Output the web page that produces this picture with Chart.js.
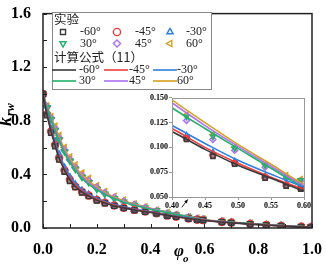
<!DOCTYPE html>
<html>
<head>
<meta charset="utf-8">
<script src="https://cdn.jsdelivr.net/npm/chart.js@4.4.0/dist/chart.umd.min.js"></script>
<style>
html, body { margin: 0; padding: 0; background: #fff; }
#wrap { position: relative; width: 326px; height: 265px; }
#main { position: absolute; left: 0; top: 0; }
#inset { position: absolute; left: 145px; top: 92px; }
</style>
</head>
<body>
<div id="wrap">
  <canvas id="main" width="326" height="265" style="width:326px;height:265px"></canvas>
  <canvas id="inset" width="167" height="118" style="width:167px;height:118px"></canvas>
</div>
<script>
// angle labels
var angleLabels = ['-60°', '-45°', '-30°', '30°', '45°', '60°'];

// calculated curves (formula 11)
var curvePhi = [0, 0.01, 0.02, 0.03, 0.04, 0.05, 0.06, 0.08, 0.10, 0.12, 0.15, 0.20, 0.25, 0.30, 0.35, 0.40, 0.45, 0.50, 0.55, 0.60, 0.70, 0.80, 0.90, 1.00];
var fitM60 = [1.00, 0.89, 0.80, 0.72, 0.65, 0.58, 0.52, 0.43, 0.36, 0.31, 0.262, 0.208, 0.174, 0.150, 0.131, 0.116, 0.098, 0.082, 0.069, 0.056, 0.038, 0.025, 0.013, 0.004];
var fitM45 = [1.00, 0.90, 0.81, 0.73, 0.66, 0.59, 0.53, 0.44, 0.37, 0.32, 0.27, 0.214, 0.179, 0.153, 0.134, 0.119, 0.100, 0.084, 0.070, 0.058, 0.039, 0.026, 0.014, 0.004];
var fitM30 = [1.00, 0.91, 0.83, 0.75, 0.68, 0.61, 0.55, 0.46, 0.39, 0.335, 0.28, 0.222, 0.185, 0.158, 0.138, 0.122, 0.104, 0.087, 0.073, 0.060, 0.041, 0.027, 0.015, 0.005];
var fitP30 = [1.00, 0.93, 0.87, 0.81, 0.75, 0.70, 0.65, 0.56, 0.49, 0.43, 0.36, 0.285, 0.232, 0.193, 0.164, 0.140, 0.119, 0.099, 0.079, 0.060, 0.042, 0.028, 0.016, 0.006];
var fitP45 = [1.00, 0.935, 0.875, 0.82, 0.765, 0.715, 0.665, 0.575, 0.505, 0.445, 0.372, 0.295, 0.238, 0.198, 0.169, 0.145, 0.122, 0.101, 0.081, 0.0615, 0.043, 0.0285, 0.0165, 0.0065];
var fitP60 = [1.00, 0.94, 0.88, 0.83, 0.78, 0.73, 0.68, 0.59, 0.52, 0.46, 0.385, 0.305, 0.245, 0.203, 0.173, 0.148, 0.125, 0.103, 0.083, 0.063, 0.044, 0.029, 0.017, 0.007];

// experiment points
var expPhi = [0, 0.015, 0.03, 0.045, 0.06, 0.08, 0.10, 0.12, 0.145, 0.17, 0.20, 0.23, 0.265, 0.30, 0.34, 0.38, 0.422, 0.462, 0.495, 0.541, 0.573, 0.595, 0.665, 0.70, 0.77, 0.83, 0.885, 0.96, 0.995];
var expM60 = [1.00, 0.84, 0.71, 0.61, 0.51, 0.42, 0.35, 0.305, 0.265, 0.238, 0.205, 0.185, 0.165, 0.148, 0.132, 0.120, 0.108, 0.091, 0.083, 0.069, 0.061, 0.058, 0.044, 0.038, 0.029, 0.021, 0.015, 0.008, 0.005];
var expM45 = [1.00, 0.85, 0.72, 0.62, 0.52, 0.43, 0.36, 0.31, 0.27, 0.243, 0.21, 0.189, 0.168, 0.151, 0.135, 0.122, 0.109, 0.092, 0.084, 0.070, 0.062, 0.059, 0.045, 0.039, 0.030, 0.022, 0.016, 0.009, 0.006];
var expM30 = [1.00, 0.86, 0.74, 0.64, 0.55, 0.45, 0.38, 0.325, 0.28, 0.25, 0.216, 0.193, 0.172, 0.155, 0.138, 0.125, 0.112, 0.095, 0.086, 0.071, 0.063, 0.059, 0.046, 0.040, 0.031, 0.023, 0.017, 0.010, 0.006];
var expP30 = [1.00, 0.90, 0.81, 0.73, 0.66, 0.57, 0.50, 0.44, 0.38, 0.34, 0.29, 0.255, 0.22, 0.195, 0.17, 0.15, 0.131, 0.111, 0.099, 0.082, 0.070, 0.067, 0.050, 0.043, 0.033, 0.025, 0.018, 0.011, 0.007];
var expP45 = [1.00, 0.905, 0.82, 0.74, 0.67, 0.58, 0.51, 0.45, 0.39, 0.35, 0.30, 0.26, 0.225, 0.198, 0.173, 0.152, 0.127, 0.108, 0.097, 0.080, 0.069, 0.066, 0.050, 0.044, 0.034, 0.025, 0.019, 0.011, 0.007];
var expP60 = [1.00, 0.91, 0.83, 0.76, 0.69, 0.60, 0.53, 0.47, 0.41, 0.37, 0.315, 0.272, 0.235, 0.207, 0.18, 0.158, 0.133, 0.113, 0.100, 0.083, 0.072, 0.068, 0.052, 0.045, 0.035, 0.026, 0.019, 0.012, 0.008];

var colors = ['#3a3a3a', '#f03c3c', '#2f7fe0', '#22b06a', '#b070f0', '#d6a020'];
var styles = ['rect', 'circle', 'triangle', 'triangle', 'rectRot', 'triangle'];
var rotations = [0, 0, 0, 180, 0, 270];
var fits = [fitM60, fitM45, fitM30, fitP30, fitP45, fitP60];
var exps = [expM60, expM45, expM30, expP30, expP45, expP60];

function hexA(hex, a) {
    var n = parseInt(hex.slice(1), 16);
    return 'rgba(' + (n >> 16) + ',' + ((n >> 8) & 255) + ',' + (n & 255) + ',' + a + ')';
}

function buildSets(r) {
    var sets = [];
    for (var k = 0; k < 6; k++) {
        sets.push({
            label: 'exp ' + angleLabels[k],
            data: expPhi.map(function (p, i) { return {x: p, y: exps[k][i]}; }),
            showLine: false,
            pointStyle: styles[k],
            rotation: rotations[k],
            pointRadius: r,
            borderWidth: 1.4,
            borderColor: colors[k],
            backgroundColor: hexA(colors[k], 0.4),
            order: 2
        });
        sets.push({
            label: 'fit ' + angleLabels[k],
            data: curvePhi.map(function (p, i) { return {x: p, y: fits[k][i]}; }),
            showLine: true,
            pointRadius: 0,
            borderWidth: 1.6,
            borderColor: colors[k],
            cubicInterpolationMode: 'monotone',
            fill: false,
            order: 1
        });
    }
    return sets;
}

var serif = '"Liberation Serif", "Times New Roman", serif';

function drawMark(ctx, style, rot, x, y, r, color) {
    ctx.save();
    ctx.strokeStyle = color;
    ctx.fillStyle = 'rgba(0,0,0,0)';
    ctx.lineWidth = 1.4;
    Chart.helpers.drawPoint(ctx, {pointStyle: style, rotation: rot, radius: r, borderWidth: 1.4}, x, y);
    ctx.restore();
}

var mainDecor = {
    id: 'mainDecor',
    afterDraw: function (chart) {
        var ctx = chart.ctx, a = chart.chartArea, xs = chart.scales.x, ys = chart.scales.y;
        ctx.save();
        // inward ticks
        ctx.strokeStyle = '#222';
        ctx.lineWidth = 1;
        ys.ticks.forEach(function (t) {
            var py = Math.round(ys.getPixelForValue(t.value)) + 0.5;
            ctx.beginPath(); ctx.moveTo(a.left, py); ctx.lineTo(a.left + 4, py); ctx.stroke();
        });
        xs.ticks.forEach(function (t) {
            var px = Math.round(xs.getPixelForValue(t.value)) + 0.5;
            ctx.beginPath(); ctx.moveTo(px, a.bottom); ctx.lineTo(px, a.bottom - 4); ctx.stroke();
        });
        // frame
        ctx.lineWidth = 1.5;
        ctx.strokeRect(a.left, a.top, a.right - a.left, a.bottom - a.top);

        // arrow toward the inset
        var x0 = xs.getPixelForValue(0.516), y0 = ys.getPixelForValue(0.154);
        var x1 = xs.getPixelForValue(0.538), y1 = ys.getPixelForValue(0.213);
        ctx.lineWidth = 1;
        ctx.beginPath(); ctx.moveTo(x0, y0); ctx.lineTo(x1, y1); ctx.stroke();
        var ang = Math.atan2(y1 - y0, x1 - x0);
        ctx.fillStyle = '#111';
        ctx.beginPath();
        ctx.moveTo(x1, y1);
        ctx.lineTo(x1 - 4 * Math.cos(ang - 0.45), y1 - 4 * Math.sin(ang - 0.45));
        ctx.lineTo(x1 - 4 * Math.cos(ang + 0.45), y1 - 4 * Math.sin(ang + 0.45));
        ctx.closePath(); ctx.fill();

        // axis titles
        ctx.fillStyle = '#000';
        ctx.textBaseline = 'alphabetic';
        ctx.font = 'bold italic 17px ' + serif;
        ctx.fillText('\u03C6', 174, 256);
        ctx.font = 'bold italic 11px ' + serif;
        ctx.fillText('o', 183, 262);

        ctx.save();
        ctx.translate(11, 126);
        ctx.rotate(-Math.PI / 2);
        ctx.font = 'bold italic 18px ' + serif;
        ctx.fillText('k', 0, 0);
        ctx.font = 'bold italic 12px ' + serif;
        ctx.fillText('rw', 10, 3);
        ctx.restore();

        // legend
        var lx = 52, ly = 12, lw = 159, lh = 77;
        ctx.fillStyle = '#fff';
        ctx.fillRect(lx, ly, lw, lh);
        ctx.strokeStyle = '#888';
        ctx.lineWidth = 1;
        ctx.strokeRect(lx + 0.5, ly + 0.5, lw, lh);

        ctx.fillStyle = '#222';
        ctx.textBaseline = 'middle';
        ctx.font = '12.5px "Noto Sans CJK SC", sans-serif';
        ctx.fillText('实验', 54, 19);
        ctx.fillText('计算公式（11）', 54, 57);

        var colX = [63, 117, 170];
        var textX = [80, 135, 186];
        ctx.font = '12px ' + serif;
        for (var k = 0; k < 6; k++) {
            var c = k % 3, rw = Math.floor(k / 3);
            drawMark(ctx, styles[k], rotations[k], colX[c], 32 + rw * 11.5, 3.6, colors[k]);
            ctx.fillStyle = '#222';
            ctx.fillText(angleLabels[k], textX[c], 32 + rw * 11.5);
        }
        var lineX = [52, 104, 153];
        var ltextX = [79, 129, 177];
        for (var k = 0; k < 6; k++) {
            var c = k % 3, rw = Math.floor(k / 3);
            var yy = 70 + rw * 11;
            ctx.strokeStyle = colors[k];
            ctx.lineWidth = 1.6;
            ctx.beginPath(); ctx.moveTo(lineX[c], yy); ctx.lineTo(lineX[c] + 24, yy); ctx.stroke();
            ctx.fillStyle = '#222';
            ctx.fillText(angleLabels[k], ltextX[c], yy);
        }
        ctx.restore();
    }
};

function isMult(v, step) {
    return Math.abs(v / step - Math.round(v / step)) < 1e-6;
}

var mainChart = new Chart(document.getElementById('main').getContext('2d'), {
    type: 'scatter',
    data: {datasets: buildSets(3.5)},
    options: {
        responsive: false,
        animation: false,
        layout: {padding: {top: 10, right: 10, left: 0, bottom: 0}},
        plugins: {legend: {display: false}, tooltip: {enabled: false}},
        scales: {
            x: {
                type: 'linear', min: 0, max: 1,
                grid: {display: false},
                border: {display: false},
                ticks: {
                    stepSize: 0.1, autoSkip: false, maxRotation: 0, padding: 4, color: '#000',
                    font: {family: serif, size: 16, weight: 'bold'},
                    callback: function (v) { return isMult(v, 0.2) ? v.toFixed(1) : ''; }
                },
                afterFit: function (s) { s.height = 37; }
            },
            y: {
                type: 'linear', min: 0, max: 1.6,
                grid: {display: false},
                border: {display: false},
                ticks: {
                    stepSize: 0.2, autoSkip: false, padding: 4, color: '#000',
                    font: {family: serif, size: 16, weight: 'bold'},
                    callback: function (v) { return isMult(v, 0.4) ? v.toFixed(1) : ''; }
                },
                afterFit: function (s) { s.width = 43; }
            }
        }
    },
    plugins: [mainDecor]
});

var insetDecor = {
    id: 'insetDecor',
    beforeDatasetsDraw: function (chart) {
        var ctx = chart.ctx, a = chart.chartArea;
        ctx.save();
        ctx.fillStyle = '#fff';
        ctx.fillRect(a.left, a.top, a.right - a.left, a.bottom - a.top);
        ctx.restore();
    },
    afterDraw: function (chart) {
        var ctx = chart.ctx, a = chart.chartArea;
        ctx.save();
        ctx.strokeStyle = '#999';
        ctx.lineWidth = 1;
        ctx.strokeRect(Math.round(a.left) + 0.5, Math.round(a.top) + 0.5, Math.round(a.right - a.left), Math.round(a.bottom - a.top));
        ctx.restore();
    }
};

var insetChart = new Chart(document.getElementById('inset').getContext('2d'), {
    type: 'scatter',
    data: {datasets: buildSets(3)},
    options: {
        responsive: false,
        animation: false,
        layout: {padding: {top: 5, right: 8, left: 0, bottom: 0}},
        plugins: {legend: {display: false}, tooltip: {enabled: false}},
        scales: {
            x: {
                type: 'linear', min: 0.4, max: 0.6,
                grid: {display: true, drawOnChartArea: false, tickLength: 3, color: '#999'},
                border: {display: false},
                ticks: {
                    stepSize: 0.05, autoSkip: false, maxRotation: 0, padding: 1, color: '#000',
                    font: {family: serif, size: 8, weight: 'bold'},
                    callback: function (v) { return v.toFixed(2); }
                },
                afterFit: function (s) { s.height = 13; }
            },
            y: {
                type: 'linear', min: 0.05, max: 0.15,
                grid: {display: true, drawOnChartArea: false, tickLength: 3, color: '#999'},
                border: {display: false},
                ticks: {
                    stepSize: 0.025, autoSkip: false, padding: 1, color: '#000',
                    font: {family: serif, size: 8, weight: 'bold'},
                    callback: function (v) { return v.toFixed(3); }
                },
                afterFit: function (s) { s.width = 27; }
            }
        }
    },
    plugins: [insetDecor]
});
</script>
</body>
</html>
